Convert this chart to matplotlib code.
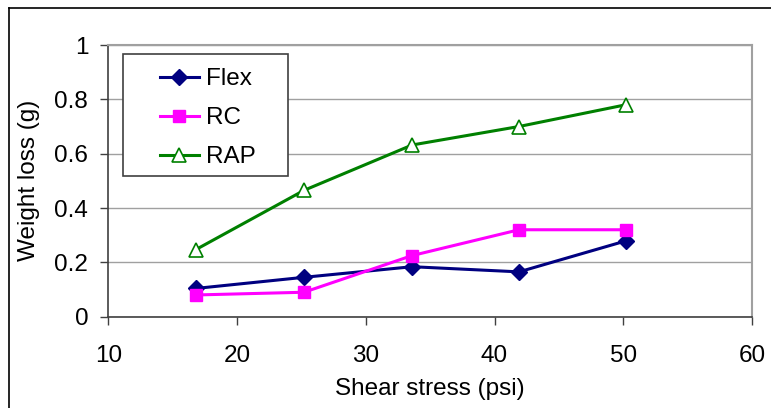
import matplotlib.pyplot as plt
from matplotlib.lines import Line2D
from matplotlib.patches import Rectangle

plt.rcParams['font.family'] = ['Liberation Sans Narrow', 'Liberation Sans', 'DejaVu Sans']

# shear stress (psi) and weight loss (g) for each mix
shear = [16.8, 25.2, 33.6, 41.9, 50.2]
flex = [0.104, 0.145, 0.184, 0.165, 0.279]
rc = [0.080, 0.090, 0.225, 0.320, 0.320]
rap = [0.247, 0.465, 0.632, 0.700, 0.780]

x_ticks = [10, 20, 30, 40, 50, 60]
y_ticks = [0, 0.2, 0.4, 0.6, 0.8, 1.0]
y_labels = ["0", "0.2", "0.4", "0.6", "0.8", "1"]

W, H = 771, 408
FS = 17.5


def px(x, y):
    # pixel position (from top-left) -> figure fraction
    return x / W, 1 - y / H


fig = plt.figure(figsize=(W / 100, H / 100), dpi=100)

# outer frame of the chart (top and left edges only show)
fig.add_artist(Line2D([9 / W, 9 / W], [0, 1 - 8 / H], color="black", lw=1.2))
fig.add_artist(Line2D([9 / W, 1], [1 - 8 / H, 1 - 8 / H], color="black", lw=1.2))

ax = fig.add_axes([108.3 / W, 91.3 / H, (752 - 108.3) / W, (316.7 - 45) / H])

ax.plot(shear, flex, color="#000080", lw=2.2, marker="D", ms=8,
        mfc="#000080", mec="#000080", label="Flex")
ax.plot(shear, rc, color="#FF00FF", lw=2.2, marker="s", ms=9,
        mfc="#FF00FF", mec="#FF00FF", label="RC")
ax.plot(shear, rap, color="#008000", lw=2.2, marker="^", ms=10,
        mfc="white", mec="#008000", mew=1.2, label="RAP")

ax.set_xlim(10, 60)
ax.set_ylim(0, 1)
ax.set_xticks(x_ticks)
ax.set_yticks(y_ticks)
ax.set_yticklabels(y_labels)
ax.tick_params(labelsize=FS, direction="out", length=5.5, width=1, color="#404040")
ax.tick_params(axis="x", pad=15)
ax.tick_params(axis="y", pad=9)

ax.grid(axis="y", color="#a0a0a0", lw=1)
ax.set_axisbelow(True)
for side in ["top", "right"]:
    ax.spines[side].set_color("#a0a0a0")
    ax.spines[side].set_linewidth(1.5)
for side in ["left", "bottom"]:
    ax.spines[side].set_color("#404040")
    ax.spines[side].set_linewidth(1.2)

ax.set_xlabel("Shear stress (psi)", fontsize=FS, labelpad=8)
ax.set_ylabel("Weight loss (g)", fontsize=FS)
ax.yaxis.set_label_coords((40 - 108.3) / (752 - 108.3), 0.5)

# legend: white box with the entries set inside it
x0, y0 = px(122.7, 176)
x1, y1 = px(288, 54)
ax.add_patch(Rectangle((x0, y0), x1 - x0, y1 - y0, transform=fig.transFigure,
                       facecolor="white", edgecolor="#404040", lw=1.2,
                       zorder=4, clip_on=False))
ax.legend(loc="upper left", bbox_to_anchor=px(160, 68), bbox_transform=fig.transFigure,
          fontsize=FS, frameon=False, borderpad=0, borderaxespad=0,
          labelspacing=0.7, handlelength=1.6, handletextpad=0.3)

fig.savefig("out.png", dpi=100)
